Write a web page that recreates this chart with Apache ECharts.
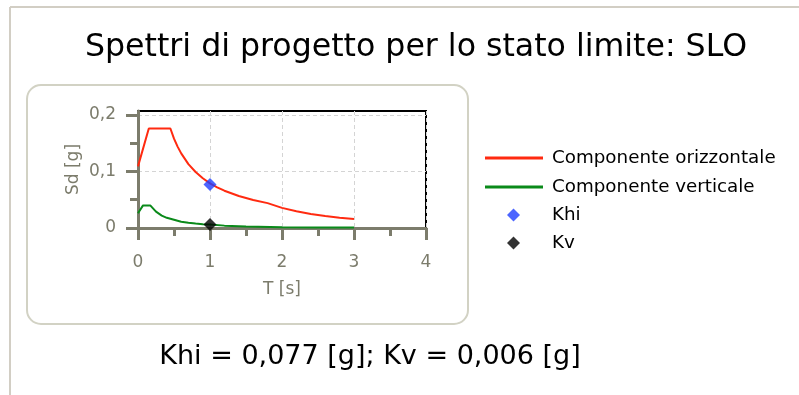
<!DOCTYPE html>
<html>
<head>
<meta charset="utf-8">
<script src="https://cdn.jsdelivr.net/npm/echarts@6/dist/echarts.min.js"></script>
<style>html,body{margin:0;padding:0;background:#fff}#c{width:799px;height:395px}</style>
</head>
<body>
<div id="c"></div>
<script>
// ---- data ----
const titleText = 'Spettri di progetto per lo stato limite: SLO';
const footerText = 'Khi = 0,077 [g]; Kv = 0,006 [g]';
const seriesNames = ['Componente orizzontale', 'Componente verticale', 'Khi', 'Kv'];
const horT  = [0, 0.15, 0.45, 0.5, 0.55, 0.6, 0.7, 0.8, 0.9, 1.0, 1.1, 1.2, 1.4, 1.6, 1.8, 2.0, 2.2, 2.4, 2.6, 2.8, 3.0];
const horSd = [0.109, 0.176, 0.176, 0.158, 0.144, 0.132, 0.113, 0.099, 0.088, 0.079, 0.072, 0.066, 0.0566, 0.0495, 0.044, 0.0356, 0.0295, 0.0248, 0.0211, 0.0182, 0.016];
const verT  = [0, 0.07, 0.17, 0.25, 0.33, 0.4, 0.5, 0.6, 0.7, 0.8, 0.9, 1.0, 1.2, 1.5, 2.0, 2.5, 3.0];
const verSd = [0.026, 0.040, 0.040, 0.029, 0.022, 0.018, 0.0145, 0.011, 0.0092, 0.0078, 0.0068, 0.006, 0.0042, 0.0027, 0.0015, 0.001, 0.0007];
const khiPoint = [1, 0.077];
const kvPoint  = [1, 0.006];
const xLabelValues = [0, 1, 2, 3, 4];
const xLabelTexts = ['0', '1', '2', '3', '4'];
const yLabelValues = [0, 0.1, 0.2];
const yLabelTexts = ['0', '0,1', '0,2'];
const xName = 'T [s]';
const yName = 'Sd [g]';

const FONT = 'DejaVu Sans';
const axisGrey = '#7c7c6c';
const zip = (a, b) => a.map((v, i) => [v, b[i]]);
const labelFor = (vals, texts) => (v) => {
  for (let i = 0; i < vals.length; i++) if (Math.abs(vals[i] - v) < 1e-9) return texts[i];
  return '';
};

const chart = echarts.init(document.getElementById('c'), null, {renderer: 'canvas'});

function lineLegend(name, top) {
  return {
    data: [{name: name, icon: 'rect'}],
    left: 485, top: top, orient: 'vertical',
    itemWidth: 58, itemHeight: 3, padding: 0,
    selectedMode: false,
    textStyle: {fontFamily: FONT, fontSize: 18.3, color: '#000', lineHeight: 18, padding: [0, 0, 0, 4]}
  };
}
function markLegend(name, top) {
  return {
    data: [{name: name, icon: 'diamond'}],
    left: 507, top: top, orient: 'vertical',
    itemWidth: 13, itemHeight: 13, padding: 0,
    selectedMode: false,
    textStyle: {fontFamily: FONT, fontSize: 18.3, color: '#000', lineHeight: 18, padding: [0, 0, 0, 27]}
  };
}

chart.setOption({
  animation: false,
  backgroundColor: '#fff',
  grid: {left: 138, right: 373, top: 111, bottom: 167, show: true, borderColor: '#000', borderWidth: 2, containLabel: false},
  xAxis: {
    type: 'value', min: 0, max: 4, interval: 1,
    name: xName, nameLocation: 'middle', nameGap: 53,
    nameTextStyle: {fontFamily: FONT, fontSize: 17, color: axisGrey},
    axisLine: {show: true, onZero: false, lineStyle: {color: axisGrey, width: 3}},
    axisTick: {show: true, length: 12, lineStyle: {color: axisGrey, width: 3}},
    minorTick: {show: true, splitNumber: 2, length: 8, lineStyle: {color: axisGrey, width: 3}},
    axisLabel: {fontFamily: FONT, fontSize: 17, color: axisGrey, margin: 26, formatter: labelFor(xLabelValues, xLabelTexts)},
    splitLine: {show: true, lineStyle: {color: '#d4d4d4', type: [4, 3], width: 1}}
  },
  yAxis: {
    type: 'value', min: 0, max: 0.207, interval: 0.1,
    name: yName, nameLocation: 'middle', nameGap: 56, nameRotate: 90,
    nameTextStyle: {fontFamily: FONT, fontSize: 17, color: axisGrey},
    axisLine: {show: true, onZero: false, lineStyle: {color: axisGrey, width: 3}},
    axisTick: {show: true, length: 12, customValues: yLabelValues, lineStyle: {color: axisGrey, width: 3}},
    minorTick: {show: true, splitNumber: 2, length: 8, lineStyle: {color: axisGrey, width: 3}},
    axisLabel: {fontFamily: FONT, fontSize: 17, color: axisGrey, margin: 22, customValues: yLabelValues, formatter: labelFor(yLabelValues, yLabelTexts)},
    splitLine: {show: true, lineStyle: {color: '#d4d4d4', type: [4, 3], width: 1}}
  },
  legend: [
    lineLegend(seriesNames[0], 149),
    lineLegend(seriesNames[1], 178),
    markLegend(seriesNames[2], 206),
    markLegend(seriesNames[3], 234)
  ],
  series: [
    {name: seriesNames[0], type: 'line', data: zip(horT, horSd), showSymbol: false, symbol: 'none',
     lineStyle: {color: '#ff2a10', width: 2}, itemStyle: {color: '#ff2a10'}, z: 3},
    {name: seriesNames[1], type: 'line', data: zip(verT, verSd), showSymbol: false, symbol: 'none',
     lineStyle: {color: '#0a8a1a', width: 2}, itemStyle: {color: '#0a8a1a'}, z: 3},
    {name: seriesNames[2], type: 'scatter', data: [khiPoint], symbol: 'diamond', symbolSize: 13,
     itemStyle: {color: '#1f3fff'}, z: 5},
    {name: seriesNames[3], type: 'scatter', data: [kvPoint], symbol: 'diamond', symbolSize: 13,
     itemStyle: {color: '#000'}, z: 5}
  ],
  graphic: [
    {type: 'line', shape: {x1: 10, y1: 7, x2: 799, y2: 7}, style: {stroke: '#d2cec4', lineWidth: 2}, z: -10},
    {type: 'line', shape: {x1: 10, y1: 7, x2: 10, y2: 395}, style: {stroke: '#d2cec4', lineWidth: 2}, z: -10},
    {type: 'rect', shape: {x: 27, y: 85, width: 441, height: 239, r: 14}, style: {fill: 'none', stroke: '#d2d2c4', lineWidth: 2}, z: -10},
    {type: 'text', x: 416, y: 48, style: {text: titleText, font: '31.6px "DejaVu Sans"', fill: '#000', textAlign: 'center', textVerticalAlign: 'middle'}},
    {type: 'text', x: 370, y: 357, style: {text: footerText, font: '27px "DejaVu Sans"', fill: '#000', textAlign: 'center', textVerticalAlign: 'middle'}}
  ]
});
</script>
</body>
</html>
